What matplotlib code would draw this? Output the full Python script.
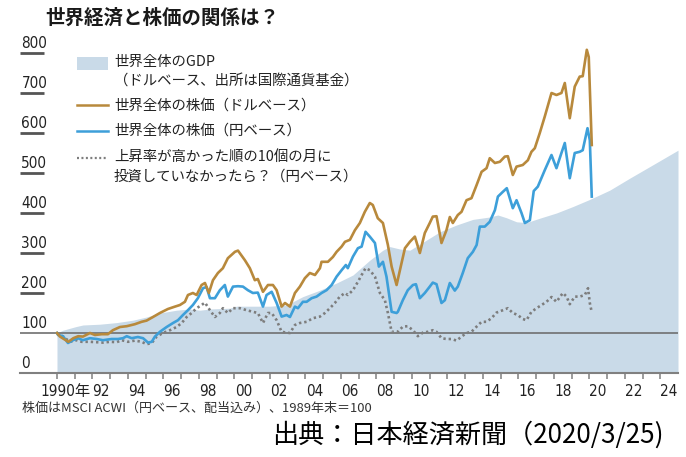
import matplotlib
matplotlib.use("Agg")
import matplotlib.pyplot as plt
from matplotlib import font_manager
from matplotlib.patches import Rectangle
from matplotlib.lines import Line2D

# --- data (index, end of 1989 = 100) ---
usd_years = [1990.0, 1990.17, 1990.64, 1990.92, 1991.2, 1991.46, 1991.86, 1992.14, 1992.52, 1992.87,
             1993.15, 1993.55, 1993.93, 1994.39, 1994.77, 1995.05, 1995.41, 1995.8, 1996.25, 1996.65,
             1996.93, 1997.21, 1997.38, 1997.66, 1997.87, 1998.15, 1998.34, 1998.56, 1998.79, 1999.07,
             1999.35, 1999.63, 2000.03, 2000.2, 2000.59, 2000.87, 2001.15, 2001.32, 2001.61, 2001.89,
             2002.17, 2002.38, 2002.66, 2002.85, 2003.13, 2003.41, 2003.69, 2003.97, 2004.25, 2004.54,
             2004.82, 2004.91, 2005.27, 2005.55, 2005.76, 2006.04, 2006.23, 2006.51, 2006.79, 2007.07,
             2007.35, 2007.63, 2007.8, 2008.08, 2008.37, 2008.65, 2008.86, 2009.14, 2009.42, 2009.61,
             2009.89, 2010.17, 2010.45, 2010.73, 2011.01, 2011.18, 2011.39, 2011.67, 2011.95, 2012.14,
             2012.31, 2012.59, 2012.8, 2013.08, 2013.36, 2013.65, 2013.93, 2014.21, 2014.39, 2014.68,
             2014.96, 2015.24, 2015.41, 2015.69, 2015.9, 2016.25, 2016.54, 2016.74, 2016.93, 2017.21,
             2017.49, 2017.87, 2018.15, 2018.43, 2018.62, 2018.9, 2019.18, 2019.46, 2019.63, 2019.86,
             2019.97, 2020.14]
usd_vals = [100, 91, 78, 87, 92, 91, 100, 95, 97, 97,
            107, 115, 117, 122, 128, 131, 140, 150, 160, 166,
            170, 178, 195, 200, 195, 220, 225, 200, 232, 250,
            262, 287, 303, 306, 282, 262, 232, 235, 203, 220,
            220, 207, 166, 175, 166, 200, 216, 237, 250, 245,
            262, 278, 278, 290, 303, 316, 328, 333, 357, 375,
            403, 425, 420, 387, 375, 320, 266, 220, 275, 312,
            328, 341, 300, 350, 375, 391, 392, 325, 357, 390,
            375, 395, 403, 432, 437, 470, 503, 512, 537, 525,
            528, 541, 542, 495, 516, 520, 532, 553, 562, 600,
            641, 700, 695, 700, 725, 637, 716, 741, 742, 808,
            790, 570]

jpy_years = [1990.0, 1990.06, 1990.34, 1990.62, 1990.9, 1991.18, 1991.46, 1991.86, 1992.24, 1992.59,
             1993.08, 1993.44, 1993.72, 1993.93, 1994.21, 1994.56, 1994.85, 1995.13, 1995.34, 1995.52,
             1995.8, 1996.18, 1996.54, 1996.82, 1997.1, 1997.38, 1997.66, 1997.94, 1998.23, 1998.43,
             1998.62, 1998.9, 1999.18, 1999.46, 1999.63, 1999.92, 2000.2, 2000.48, 2000.76, 2001.04,
             2001.32, 2001.61, 2001.81, 2002.1, 2002.38, 2002.66, 2002.94, 2003.13, 2003.41, 2003.58,
             2003.86, 2004.07, 2004.35, 2004.63, 2004.91, 2005.19, 2005.48, 2005.76, 2006.04, 2006.28,
             2006.39, 2006.68, 2006.96, 2007.17, 2007.39, 2007.63, 2007.92, 2008.14, 2008.37, 2008.57,
             2008.86, 2009.14, 2009.21, 2009.49, 2009.77, 2010.06, 2010.23, 2010.45, 2010.73, 2011.01,
             2011.18, 2011.39, 2011.67, 2011.86, 2012.14, 2012.42, 2012.59, 2012.87, 2013.15, 2013.44,
             2013.65, 2013.83, 2014.11, 2014.39, 2014.68, 2014.85, 2015.13, 2015.35, 2015.69, 2015.9,
             2016.18, 2016.37, 2016.65, 2016.87, 2017.1, 2017.49, 2017.87, 2018.15, 2018.43, 2018.62,
             2018.9, 2019.18, 2019.46, 2019.63, 2019.9, 2020.03, 2020.14]
jpy_vals = [100, 95, 92, 75, 82, 87, 82, 87, 85, 82,
            85, 85, 87, 92, 87, 90, 87, 76, 78, 91,
            103, 115, 125, 132, 145, 157, 170, 187, 212, 215,
            187, 187, 207, 220, 191, 216, 217, 216, 207, 200,
            201, 166, 195, 203, 175, 141, 145, 140, 166, 162,
            178, 178, 187, 191, 200, 207, 220, 241, 257, 270,
            262, 291, 312, 316, 353, 341, 325, 266, 278, 241,
            153, 150, 153, 182, 207, 220, 222, 187, 200, 216,
            226, 222, 175, 182, 225, 206, 216, 250, 287, 303,
            320, 366, 366, 378, 407, 441, 453, 462, 412, 432,
            400, 375, 382, 455, 466, 507, 545, 512, 550, 575,
            487, 550, 553, 557, 612, 582, 441]

skip_years = [1990.0, 1990.34, 1990.73, 1991.11, 1991.39, 1991.86, 1992.24, 1992.59, 1992.99, 1993.36,
              1993.65, 1994.0, 1994.39, 1994.77, 1995.05, 1995.34, 1995.62, 1995.97, 1996.37, 1996.74,
              1997.03, 1997.31, 1997.59, 1997.87, 1998.15, 1998.34, 1998.62, 1998.9, 1999.18, 1999.35,
              1999.63, 1999.92, 2000.31, 2000.69, 2001.04, 2001.32, 2001.61, 2001.89, 2002.1, 2002.38,
              2002.66, 2002.94, 2003.13, 2003.41, 2003.69, 2004.07, 2004.42, 2004.82, 2005.1, 2005.38,
              2005.66, 2005.94, 2006.23, 2006.39, 2006.68, 2006.96, 2007.17, 2007.39, 2007.63, 2007.92,
              2008.2, 2008.48, 2008.65, 2008.86, 2009.1, 2009.21, 2009.49, 2009.77, 2010.06, 2010.34,
              2010.62, 2010.9, 2011.18, 2011.39, 2011.67, 2011.95, 2012.24, 2012.52, 2012.8, 2013.08,
              2013.36, 2013.65, 2013.93, 2014.21, 2014.49, 2014.77, 2015.13, 2015.41, 2015.69, 2015.97,
              2016.25, 2016.46, 2016.74, 2017.03, 2017.31, 2017.59, 2017.87, 2018.15, 2018.51, 2018.72,
              2018.9, 2019.18, 2019.46, 2019.75, 2019.93, 2020.03, 2020.12]
skip_vals = [100, 91, 78, 82, 78, 78, 77, 76, 78, 77,
             82, 78, 81, 78, 72, 75, 91, 100, 107, 115,
             125, 140, 150, 162, 170, 176, 157, 140, 150, 162,
             150, 162, 162, 157, 153, 150, 125, 150, 150, 132,
             103, 101, 100, 120, 125, 128, 137, 141, 150, 162,
             175, 191, 200, 195, 207, 228, 245, 262, 257, 241,
             200, 182, 150, 103, 103, 103, 116, 117, 107, 92,
             101, 103, 107, 103, 87, 85, 85, 81, 91, 100,
             103, 116, 128, 128, 137, 151, 157, 162, 150, 145,
             135, 132, 153, 162, 170, 178, 190, 178, 200, 191,
             172, 191, 191, 195, 212, 175, 156]

gdp_years = [1990.0, 1990.34, 1991.07, 1991.46, 1992.42, 1993.36, 1994.28, 1995.05, 1995.8, 1996.74,
             1997.49, 1998.06, 1998.62, 1999.75, 2000.12, 2001.04, 2002.0, 2002.94, 2003.86, 2004.82,
             2005.76, 2006.68, 2007.63, 2008.37, 2008.76, 2009.32, 2009.89, 2010.45, 2011.58, 2012.52,
             2013.44, 2014.39, 2014.85, 2015.34, 2015.9, 2016.46, 2017.21, 2018.15, 2019.07, 2020.03,
             2021.15, 2022.28, 2023.41, 2025.0]
gdp_vals = [100, 107, 116, 120, 122, 126, 132, 140, 150, 157,
            160, 157, 160, 162, 167, 167, 167, 170, 191, 207,
            225, 245, 282, 307, 316, 310, 307, 322, 353, 370,
            384, 390, 395, 388, 378, 376, 387, 400, 416, 434,
            457, 487, 516, 557]

y_ticks = [0, 100, 200, 300, 400, 500, 600, 700, 800]
x_label_years = list(range(1990, 2025, 2))
x_labels = ["1990年"] + ["%02d" % (y % 100) for y in x_label_years[1:]]

legend_labels = ["世界全体のGDP\n（ドルベース、出所は国際通貨基金）",
                 "世界全体の株価（ドルベース）",
                 "世界全体の株価（円ベース）",
                 "上昇率が高かった順の10個の月に\n投資していなかったら？（円ベース）"]

C_GDP = "#c9dae8"
C_USD = "#b8893c"
C_JPY = "#3d9fd9"
C_SKIP = "#7d7d7d"

JP = ["Noto Sans CJK JP", "DejaVu Sans"]

# narrow face for the numbers if one is installed
names = {f.name for f in font_manager.fontManager.ttflist}
if "Liberation Sans Narrow" in names:
    NUM = ["Liberation Sans Narrow", "Noto Sans CJK JP"]
    NUM_STRETCH = "normal"
else:
    NUM = ["DejaVu Sans", "Noto Sans CJK JP"]
    NUM_STRETCH = "condensed"

W, H = 686, 457
fig = plt.figure(figsize=(W / 100, H / 100), dpi=100)


def fx(x):
    return x / W


def fy(y):
    return 1 - y / H


# plot area in pixels: left 20, right 678, bottom (value 0) 373, 40px per 100
x_left = 1990 - (57 - 20) / 17.75
ax = fig.add_axes([fx(20), fy(373), (678 - 20) / W, (373 - 45) / H])
ax.set_xlim(x_left, 2025)
ax.set_ylim(0, 820)

ax.fill_between(gdp_years, 0, gdp_vals, color=C_GDP, lw=0, zorder=1)
ax.axhline(100, color="#707070", lw=1.2, zorder=2)
ax.plot(skip_years, skip_vals, color=C_SKIP, lw=1.9, ls=(0, (0.9, 1.1)), zorder=3)
ax.plot(jpy_years, jpy_vals, color=C_JPY, lw=1.9, zorder=4)
ax.plot(usd_years, usd_vals, color=C_USD, lw=1.9, zorder=5)

# y ticks: short rules drawn inward under each label (24 px long)
for s in ["top", "right", "left"]:
    ax.spines[s].set_visible(False)
ax.spines["bottom"].set_color("#808080")
ax.spines["bottom"].set_linewidth(1.5)
ax.set_yticks(y_ticks[2:])
ax.tick_params(axis="y", direction="in", length=24 * 0.72, width=2.0, color="#555555",
               left=True, labelleft=False)
for v in y_ticks:
    ax.annotate(str(v), xy=(0, v), xycoords=("axes fraction", "data"),
                xytext=(1, 3.5), textcoords="offset points", ha="left", va="baseline",
                fontsize=11, family=NUM, stretch=NUM_STRETCH, color="#222222")

ax.set_xticks(list(range(1990, 2025)))
ax.set_xticklabels([])
ax.tick_params(axis="x", which="major", direction="out", length=4, width=1.1, color="#808080")
ax.set_xticks([y + 0.5 for y in x_label_years], minor=True)
ax.set_xticklabels(x_labels, minor=True, fontsize=11, family=NUM, stretch=NUM_STRETCH,
                   color="#222222")
ax.tick_params(axis="x", which="minor", length=0, pad=8)

# title
fig.text(fx(45), fy(18), "世界経済と株価の関係は？", fontsize=14, weight="bold",
         family=JP, va="center", ha="left", color="#1a1a1a")

# legend (drawn by hand, keys aligned to first line of each label)
fig.patches.append(Rectangle((fx(77), fy(70)), 31 / W, 13 / H, transform=fig.transFigure,
                             facecolor=C_GDP, edgecolor="none"))
fig.lines.append(Line2D([fx(77), fx(108)], [fy(105), fy(105)], transform=fig.transFigure,
                        color=C_USD, lw=1.8))
fig.lines.append(Line2D([fx(77), fx(108)], [fy(131), fy(131)], transform=fig.transFigure,
                        color=C_JPY, lw=1.8))
fig.lines.append(Line2D([fx(77), fx(108)], [fy(158), fy(158)], transform=fig.transFigure,
                        color=C_SKIP, lw=1.6, ls=(0, (0.9, 1.1))))
legend_y = [62, 106, 131, 157]
for lab, y in zip(legend_labels, legend_y):
    lines = lab.split("\n")
    for i, ln in enumerate(lines):
        fig.text(fx(114), fy(y + 20 * i), ln, fontsize=10.4, family=JP,
                 va="center", ha="left", color="#222222")

fig.text(fx(22), fy(408), "株価はMSCI ACWI（円ベース、配当込み）、1989年末＝100",
         fontsize=9.4, family=JP, va="center", ha="left", color="#333333")
fig.text(fx(272), fy(435), "出典：日本経済新聞（2020/3/25)", fontsize=18.8,
         family=JP, va="center", ha="left", color="#000000")

fig.savefig("out.png", dpi=100)
